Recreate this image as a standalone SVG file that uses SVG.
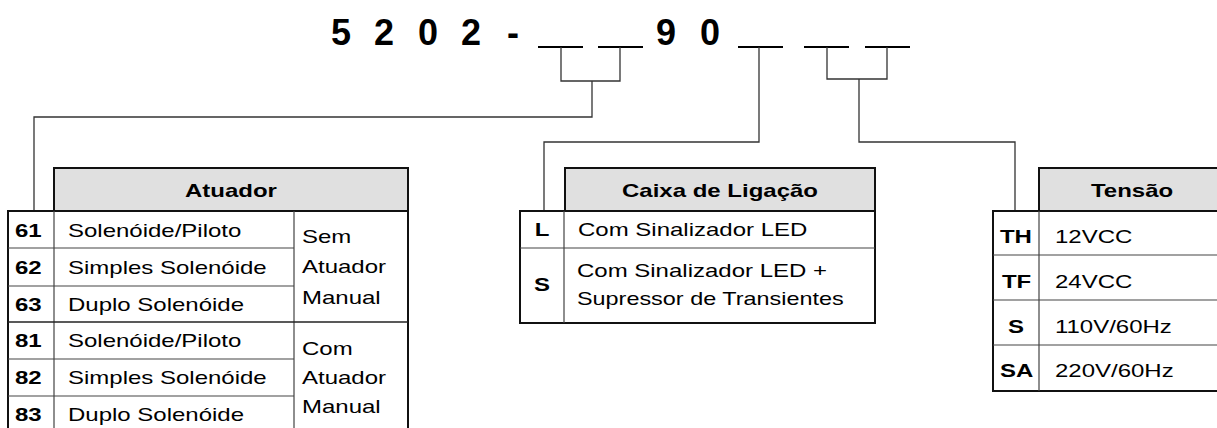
<svg xmlns="http://www.w3.org/2000/svg" width="1217" height="428" viewBox="0 0 1217 428">
<style>
.t{font-family:"Liberation Sans",Arial,sans-serif;font-size:18px;fill:#000}
.b{font-weight:bold}
.title{font-family:"Liberation Sans",Arial,sans-serif;font-size:36px;font-weight:bold;fill:#000}
.hdr{fill:#e0e0e0;stroke:#111;stroke-width:2}
.outer{fill:#fff;stroke:#111;stroke-width:2}
.in{stroke:#444;stroke-width:1.2;fill:none}
.conn{stroke:#333;stroke-width:1.3;fill:none}
.us{stroke:#000;stroke-width:2.2;fill:none}
</style>
<rect width="1217" height="428" fill="#fff"/>
<g id="title">
<text class="title" x="331 374 418 461 507" y="45">5202-</text>
<text class="title" x="656 700" y="45">90</text>
</g>
<g id="connectors">
<path class="us" d="M538 47H583M598 47H643M738 47H783M804 47H849M865 47H910"/>
<path class="conn" d="M561 47V81H620V47M592 81V117H34V211"/>
<path class="conn" d="M759 47V142H544V211"/>
<path class="conn" d="M827 47V79H887V47M859 79V142H1015V211"/>
</g>
<g id="atuador">
<rect class="hdr" x="54" y="168" width="354" height="43"/>
<rect class="outer" x="8" y="211" width="400" height="240"/>
<path class="in" d="M54 211V440M294 211V440M8 248H294M8 286H294M8 359H294M8 396H294"/>
<path stroke="#222" stroke-width="1.6" d="M8 322H408"/>
<g transform="scale(1.3333,1)">
<text class="t b" x="138.75" y="197">Atuador</text>
<text class="t b" x="11.25" y="237">61</text>
<text class="t b" x="11.25" y="274">62</text>
<text class="t b" x="11.25" y="311">63</text>
<text class="t b" x="11.25" y="347">81</text>
<text class="t b" x="11.25" y="384">82</text>
<text class="t b" x="11.25" y="421">83</text>
<text class="t" x="51" y="237">Solenóide/Piloto</text>
<text class="t" x="51" y="274">Simples Solenóide</text>
<text class="t" x="51" y="311">Duplo Solenóide</text>
<text class="t" x="51" y="347">Solenóide/Piloto</text>
<text class="t" x="51" y="384">Simples Solenóide</text>
<text class="t" x="51" y="421">Duplo Solenóide</text>
<text class="t" x="226.5" y="243">Sem</text>
<text class="t" x="226.5" y="273">Atuador</text>
<text class="t" x="226.5" y="304">Manual</text>
<text class="t" x="226.5" y="355">Com</text>
<text class="t" x="226.5" y="384">Atuador</text>
<text class="t" x="226.5" y="413">Manual</text>
</g>
</g>
<g id="caixa">
<rect class="hdr" x="565" y="168" width="310" height="43"/>
<rect class="outer" x="520" y="211" width="355" height="112"/>
<path class="in" d="M564 211V323M520 248H875"/>
<g transform="scale(1.3333,1)">
<text class="t b" x="466.5" y="197">Caixa de Ligação</text>
<text class="t b" x="406.5" y="236" text-anchor="middle">L</text>
<text class="t b" x="406.5" y="291" text-anchor="middle">S</text>
<text class="t" x="433.5" y="236">Com Sinalizador LED</text>
<text class="t" x="432.75" y="277">Com Sinalizador LED +</text>
<text class="t" x="432.75" y="305" textLength="200" lengthAdjust="spacingAndGlyphs">Supressor de Transientes</text>
</g>
</g>
<g id="tensao">
<rect class="hdr" x="1039" y="168" width="200" height="43"/>
<rect class="outer" x="993" y="211" width="246" height="180"/>
<path class="in" d="M1039 211V391M993 255H1239M993 300H1239M993 345H1239"/>
<g transform="scale(1.3333,1)">
<text class="t b" x="818.25" y="197">Tensão</text>
<text class="t b" x="750" y="243">TH</text>
<text class="t b" x="751.5" y="288">TF</text>
<text class="t b" x="762" y="333" text-anchor="middle">S</text>
<text class="t b" x="750" y="377">SA</text>
<text class="t" x="791.25" y="243">12VCC</text>
<text class="t" x="791.25" y="288">24VCC</text>
<text class="t" x="791.25" y="333">110V/60Hz</text>
<text class="t" x="791.25" y="377">220V/60Hz</text>
</g>
</g>
</svg>
